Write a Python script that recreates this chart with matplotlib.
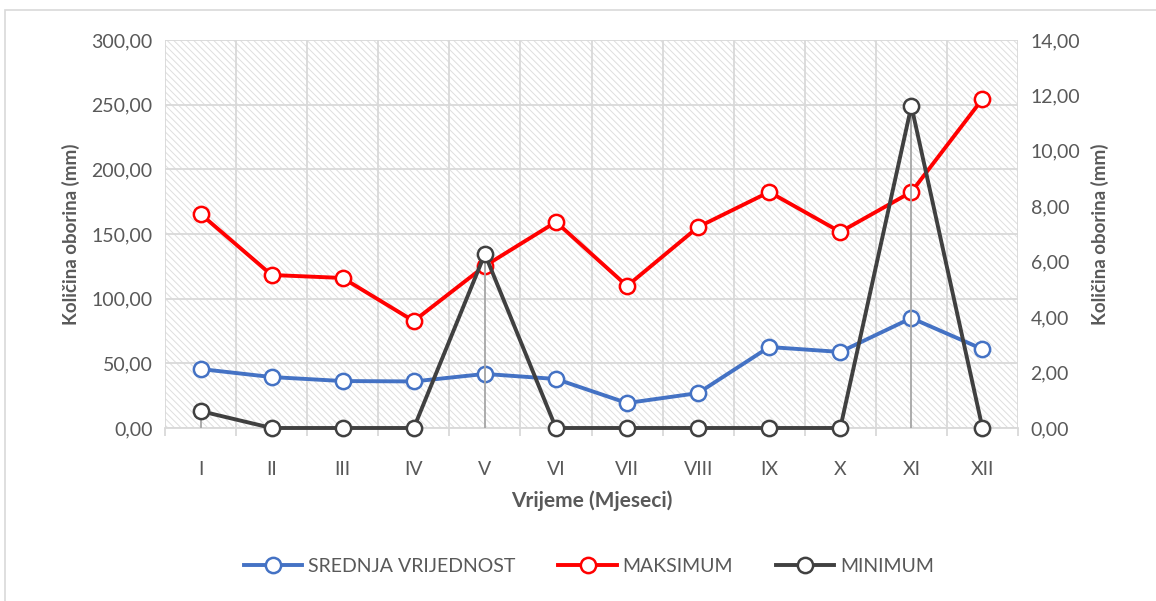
import numpy as np
import matplotlib
matplotlib.use("Agg")
import matplotlib.pyplot as plt
from matplotlib.patches import Rectangle
from matplotlib.ticker import FuncFormatter

plt.rcParams['font.family'] = ['Lato', 'DejaVu Sans']
plt.rcParams['hatch.color'] = '#dedede'
plt.rcParams['hatch.linewidth'] = 0.7

# podaci
mjeseci = ['I', 'II', 'III', 'IV', 'V', 'VI', 'VII', 'VIII', 'IX', 'X', 'XI', 'XII']
srednja = [45.6, 39.4, 36.3, 36.0, 41.8, 37.9, 19.3, 27.0, 62.6, 58.8, 85.0, 61.0]
maksimum = [165.5, 118.3, 116.0, 82.7, 125.3, 159.3, 109.8, 155.4, 182.5, 151.6, 182.5, 254.4]
minimum = [0.61, 0.0, 0.0, 0.0, 6.28, 0.0, 0.0, 0.0, 0.0, 0.0, 11.62, 0.0]

txt = '#595959'
grid = '#d9d9d9'

fig = plt.figure(figsize=(11.56, 6.01), dpi=100)
W, H = 1156, 601
ax = fig.add_axes([165 / W, 1 - 428 / H, (1018 - 165) / W, (428 - 40) / H])
ax2 = ax.twinx()

x = np.arange(len(mjeseci))

# okvir grafikona
fig.patches.append(Rectangle((5 / W, -0.05), 1.2, 1 - 10 / H + 0.05, transform=fig.transFigure,
                             fill=False, edgecolor='#d9d9d9', linewidth=1.2))

# pozadina s crtkanjem
ax.add_patch(Rectangle((0, 0), 1, 1, transform=ax.transAxes, facecolor='white',
                       hatch='\\\\\\\\\\', edgecolor='#dedede', linewidth=0, zorder=0))

ax.set_xlim(-0.5, 11.5)
ax.set_ylim(0, 300)
ax2.set_ylim(0, 14)
ax.set_yticks(np.arange(0, 301, 50))
ax2.set_yticks(np.arange(0, 15, 2))

fmt = FuncFormatter(lambda v, p: f'{v:.2f}'.replace('.', ','))
ax.yaxis.set_major_formatter(fmt)
ax2.yaxis.set_major_formatter(fmt)

ax.set_xticks(x)
ax.set_xticklabels(mjeseci)
ax.set_xticks(np.arange(-0.5, 12, 1), minor=True)
ax.grid(True, which='minor', axis='x', color=grid, linewidth=1.3, zorder=1)
ax.grid(True, which='major', axis='y', color=grid, linewidth=1.3, zorder=1)
ax.tick_params(axis='x', which='major', length=0, pad=24, labelsize=14, labelcolor=txt)
ax.tick_params(axis='x', which='minor', length=6, color=grid, width=1.3)
ax.tick_params(axis='y', length=0, pad=9, labelsize=14, labelcolor=txt)
ax2.tick_params(axis='y', length=0, pad=9, labelsize=14, labelcolor=txt)

for a in (ax, ax2):
    for s in a.spines.values():
        s.set_visible(False)
ax.spines['bottom'].set_visible(True)
ax.spines['bottom'].set_color(grid)
ax.spines['bottom'].set_linewidth(1.3)

ax.set_xlabel('Vrijeme (Mjeseci)', fontsize=15, fontweight='bold', color=txt, labelpad=9)
ax.set_ylabel('Količina oborina (mm)', fontsize=13.5, fontweight='bold', color=txt, labelpad=8)
ax2.set_ylabel('Količina oborina (mm)', fontsize=13.5, fontweight='bold', color=txt, labelpad=8)

mk = dict(marker='o', markersize=11, markerfacecolor='white', markeredgewidth=1.8, clip_on=False)
l1, = ax.plot(x, srednja, color='#4472c4', linewidth=2.8, label='SREDNJA VRIJEDNOST', zorder=3, **mk)
l2, = ax.plot(x, maksimum, color='#ff0000', linewidth=2.8, label='MAKSIMUM', zorder=3, **mk)

# okomite linije do osi (drop lines)
ax2.vlines(x, 0, minimum, color='#a5a5a5', linewidth=1.3, zorder=2)
l3, = ax2.plot(x, minimum, color='#404040', linewidth=2.8, label='MINIMUM', zorder=3, **mk)
ax.set_zorder(1)
ax.patch.set_visible(False)
ax2.set_zorder(2)

fig.legend(handles=[l1, l2, l3], loc='center', bbox_to_anchor=(589 / W, 1 - 566 / H),
           ncol=3, frameon=False, fontsize=14, labelcolor=txt, handlelength=3,
           columnspacing=2.2, handletextpad=0.3)

fig.savefig('out.png', dpi=100)
